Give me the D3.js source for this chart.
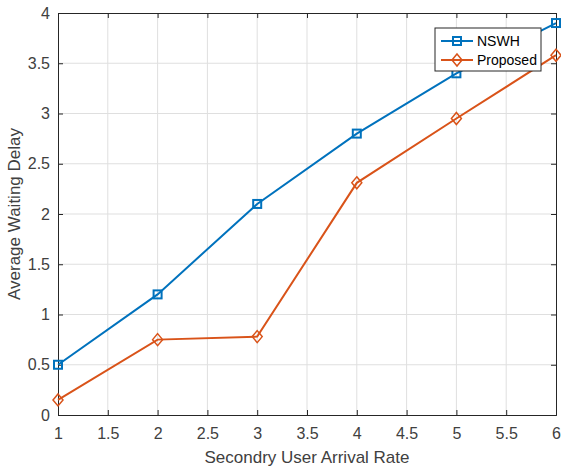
<!DOCTYPE html>
<html>
<head>
<meta charset="utf-8">
<script src="https://cdn.jsdelivr.net/npm/d3@7"></script>
<style>
  body { margin: 0; background: #fff; }
  text { font-family: "Liberation Sans", Arial, sans-serif; }
</style>
</head>
<body>
<div id="chart"></div>
<script>
var rates = [1, 2, 3, 4, 5, 6];
var nswh = [0.5, 1.2, 2.1, 2.8, 3.4, 3.9];
var proposed = [0.15, 0.75, 0.78, 2.31, 2.95, 3.58];
var xTicks = [1, 1.5, 2, 2.5, 3, 3.5, 4, 4.5, 5, 5.5, 6];
var yTicks = [0, 0.5, 1, 1.5, 2, 2.5, 3, 3.5, 4];
var seriesNames = ["NSWH", "Proposed"];

var width = 561, height = 470,
    plotLeft = 58, plotRight = 556, plotTop = 13, plotBottom = 415,
    blue = "#0072BD", orange = "#D95319", axisCol = "#262626", textCol = "#404040";

var svg = d3.select("#chart").append("svg")
  .attr("width", width).attr("height", height);

var x = d3.scaleLinear().domain([1, 6]).range([plotLeft, plotRight]);
var y = d3.scaleLinear().domain([0, 4]).range([plotBottom, plotTop]);

// grid
svg.append("g").selectAll("line").data(xTicks.slice(1, -1)).enter().append("line")
  .attr("x1", function (d) { return x(d); }).attr("x2", function (d) { return x(d); })
  .attr("y1", plotTop).attr("y2", plotBottom)
  .attr("stroke", "#dfdfdf").attr("stroke-width", 1);
svg.append("g").selectAll("line").data(yTicks.slice(1, -1)).enter().append("line")
  .attr("y1", function (d) { return y(d); }).attr("y2", function (d) { return y(d); })
  .attr("x1", plotLeft).attr("x2", plotRight)
  .attr("stroke", "#dfdfdf").attr("stroke-width", 1);

// axes with inward ticks
svg.append("g").attr("transform", "translate(0," + plotBottom + ")")
  .call(d3.axisBottom(x).tickValues(xTicks).tickSize(-5).tickPadding(13).tickFormat(d3.format("")));
svg.append("g").attr("transform", "translate(" + plotLeft + ",0)")
  .call(d3.axisLeft(y).tickValues(yTicks).tickSize(-5).tickPadding(8).tickFormat(d3.format("")));
svg.append("g").attr("transform", "translate(0," + plotTop + ")")
  .call(d3.axisTop(x).tickValues(xTicks).tickSize(-5).tickFormat(""));
svg.append("g").attr("transform", "translate(" + plotRight + ",0)")
  .call(d3.axisRight(y).tickValues(yTicks).tickSize(-5).tickFormat(""));

svg.selectAll(".domain").attr("stroke", axisCol).attr("stroke-width", 1);
svg.selectAll(".tick line").attr("stroke", axisCol);
svg.selectAll(".tick text").attr("fill", textCol).style("font-size", "16px");

// labels
svg.append("text").attr("x", (plotLeft + plotRight) / 2).attr("y", 463)
  .attr("text-anchor", "middle").attr("fill", textCol).style("font-size", "17px")
  .text("Secondry User Arrival Rate");
svg.append("text").attr("transform", "translate(20," + ((plotTop + plotBottom) / 2) + ") rotate(-90)")
  .attr("text-anchor", "middle").attr("fill", textCol).style("font-size", "17px")
  .text("Average Waiting Delay");

// lines
var line = d3.line().x(function (d, i) { return x(rates[i]); }).y(function (d) { return y(d); });
svg.append("path").datum(nswh).attr("d", line)
  .attr("fill", "none").attr("stroke", blue).attr("stroke-width", 2);
svg.append("path").datum(proposed).attr("d", line)
  .attr("fill", "none").attr("stroke", orange).attr("stroke-width", 2);

svg.append("g").selectAll("rect").data(nswh).enter().append("rect")
  .attr("x", function (d, i) { return x(rates[i]) - 4; })
  .attr("y", function (d) { return y(d) - 4; })
  .attr("width", 8).attr("height", 8)
  .attr("fill", "none").attr("stroke", blue).attr("stroke-width", 2);

var diamond = "M0,-6L5,0L0,6L-5,0Z";
svg.append("g").selectAll("path").data(proposed).enter().append("path")
  .attr("d", diamond)
  .attr("transform", function (d, i) { return "translate(" + x(rates[i]) + "," + y(d) + ")"; })
  .attr("fill", "none").attr("stroke", orange).attr("stroke-width", 1.5);

// legend
var lg = svg.append("g").attr("transform", "translate(435,28)");
lg.append("rect").attr("width", 106).attr("height", 43)
  .attr("fill", "#fff").attr("stroke", axisCol).attr("stroke-width", 1);
var colors = [blue, orange];
seriesNames.forEach(function (name, i) {
  var yy = 13 + i * 19;
  lg.append("line").attr("x1", 6).attr("x2", 38).attr("y1", yy).attr("y2", yy)
    .attr("stroke", colors[i]).attr("stroke-width", 2);
  if (i == 0) {
    lg.append("rect").attr("x", 18).attr("y", yy - 4).attr("width", 8).attr("height", 8)
      .attr("fill", "none").attr("stroke", blue).attr("stroke-width", 2);
  } else {
    lg.append("path").attr("d", diamond).attr("transform", "translate(22," + yy + ")")
      .attr("fill", "none").attr("stroke", orange).attr("stroke-width", 1.5);
  }
  lg.append("text").attr("x", 42).attr("y", yy + 5).attr("fill", "#000")
    .style("font-size", "14px").text(name);
});
</script>
</body>
</html>
